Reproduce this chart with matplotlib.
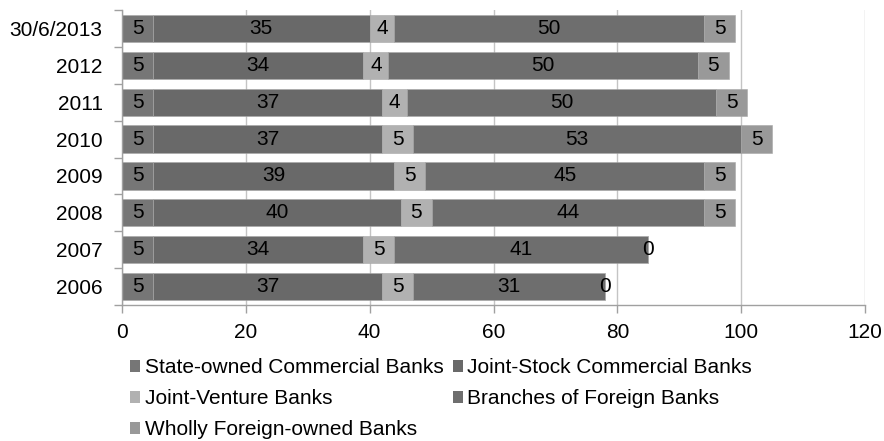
import matplotlib.pyplot as plt
from matplotlib.patches import Patch
from matplotlib.ticker import FixedLocator

plt.rcParams['font.family'] = ['Liberation Sans', 'DejaVu Sans']

years = ['30/6/2013', '2012', '2011', '2010', '2009', '2008', '2007', '2006']
state_owned = [5, 5, 5, 5, 5, 5, 5, 5]
joint_stock = [35, 34, 37, 37, 39, 40, 34, 37]
joint_venture = [4, 4, 4, 5, 5, 5, 5, 5]
foreign_branches = [50, 50, 50, 53, 45, 44, 41, 31]
wholly_foreign = [5, 5, 5, 5, 5, 5, 0, 0]

series = [
    ('State-owned Commercial Banks', state_owned, '#767676'),
    ('Joint-Stock Commercial Banks', joint_stock, '#696969'),
    ('Joint-Venture Banks', joint_venture, '#b1b1b1'),
    ('Branches of Foreign Banks', foreign_branches, '#6e6e6e'),
    ('Wholly Foreign-owned Banks', wholly_foreign, '#999999'),
]

FS = 15
W, H = 884, 441
fig = plt.figure(figsize=(W / 100, H / 100), dpi=100)
ax = fig.add_axes([122 / W, (H - 305) / H, (865 - 122) / W, (305 - 10) / H])

ypos = list(range(len(years)))
left = [0] * len(years)
for name, vals, color in series:
    ax.barh(ypos, vals, left=left, height=0.74, color=color,
            edgecolor='#a8a8a8', linewidth=0.4, label=name, zorder=2)
    for y, v, l in zip(ypos, vals, left):
        ax.text(l + v / 2, y, str(v), ha='center', va='center',
                fontsize=FS, color='black', zorder=3)
    left = [a + b for a, b in zip(left, vals)]

ax.set_xlim(0, 120)
ax.set_xticks(range(0, 121, 20))
ax.set_ylim(len(years) - 0.5, -0.5)
ax.set_yticks(ypos)
ax.set_yticklabels(years)
ax.yaxis.set_minor_locator(FixedLocator([i - 0.5 for i in range(len(years) + 1)]))

ax.tick_params(axis='y', which='major', length=0, pad=14, labelsize=FS)
ax.tick_params(axis='y', which='minor', length=6, color='#a0a0a0', width=1)
ax.tick_params(axis='x', length=6, color='#a0a0a0', width=1, pad=7, labelsize=FS)

ax.grid(axis='x', color='#c4c4c4', linewidth=1, zorder=0)
ax.set_axisbelow(True)
for side in ['top', 'right']:
    ax.spines[side].set_visible(False)
for side in ['left', 'bottom']:
    ax.spines[side].set_color('#a0a0a0')
    ax.spines[side].set_linewidth(1)

# legend: two columns filled column-first
order = [0, 2, 4, 1, 3]
handles = [Patch(facecolor=series[i][2], edgecolor='none') for i in order]
labels = [series[i][0] for i in order]
fig.legend(handles, labels, loc='upper left', bbox_to_anchor=(130 / W, 1 - 358 / H),
           ncol=2, frameon=False, fontsize=FS, handlelength=0.5, handleheight=0.5,
           handletextpad=0.2, columnspacing=0.45, labelspacing=0.58, borderpad=0,
           borderaxespad=0)

fig.savefig('out.png', dpi=100)
